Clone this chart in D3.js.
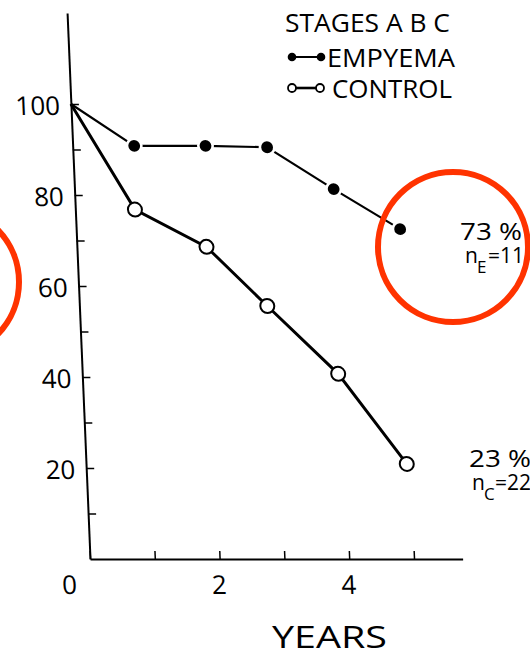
<!DOCTYPE html>
<html>
<head>
<meta charset="utf-8">
<script src="https://cdn.jsdelivr.net/npm/d3@7"></script>
<style>
  html, body { margin: 0; padding: 0; background: #fff; }
  svg { display: block; }
  text { font-family: "Open Sans", Lato, "DejaVu Sans", sans-serif; font-weight: 400; fill: #000; }
</style>
</head>
<body>
<div id="chart"></div>
<script>
// ---- data ----
const empyemaYears  = [0, 0.95, 2.05, 3.0, 4.0, 5.0];
const empyemaValues = [100, 90.8, 90.8, 90.5, 81.3, 72.5];
const controlYears  = [0, 0.92, 2.0, 2.9, 3.95, 4.95];
const controlValues = [100, 76.8, 68.6, 55.6, 40.7, 20.9];
const xTickValues = [0, 1, 2, 3, 4, 5];
const xTickLabels = ["0", "", "2", "", "4", ""];
const yTickValues = [10, 20, 30, 40, 50, 60, 70, 80, 90, 100];
const yTickLabels = ["", "20", "", "40", "", "60", "", "80", "", "100"];
const legendTitle = "STAGES A B C";
const seriesNames = ["EMPYEMA", "CONTROL"];
const endLabels = [
  { pct: "73 %", sub: "E", n: "=11" },
  { pct: "23 %", sub: "C", n: "=22" }
];
const xTitle = "YEARS";

const W = 530, H = 652;
const FONT = '"Open Sans", Lato, "DejaVu Sans", sans-serif';
const svg = d3.select("#chart").append("svg").attr("width", W).attr("height", H);

// plot group: origin at axis corner, slight skew mimics the hand-drawn slanted y axis
const ox = 90, oy = 559, skewDeg = Math.atan(0.042) * 180 / Math.PI;
const g = svg.append("g").attr("transform", `translate(${ox},${oy}) skewX(${skewDeg})`);

const x = d3.scaleLinear().domain([0, 5.75]).range([0, 5.75 * 64.8]);
const y = d3.scaleLinear().domain([0, 120]).range([0, -546]);

// axes
const yAxis = d3.axisLeft(y).tickValues(yTickValues).tickSizeInner(-8).tickSizeOuter(0)
  .tickPadding(11).tickFormat((d, i) => yTickLabels[i]);
const gy = g.append("g").call(yAxis);
gy.select(".domain").attr("stroke", "#000").attr("stroke-width", 2);
gy.selectAll(".tick line").attr("stroke", "#000").attr("stroke-width", 1.5);
gy.selectAll(".tick text").attr("font-size", 26).attr("dy", "0.42em")
  .style("font-family", FONT).style("font-weight", 400).attr("fill", "#000");

const xAxis = d3.axisBottom(x).tickValues(xTickValues).tickSizeInner(-8).tickSizeOuter(0)
  .tickPadding(17).tickFormat((d, i) => xTickLabels[i]);
const gx = g.append("g").call(xAxis);
gx.select(".domain").attr("stroke", "#000").attr("stroke-width", 2.2);
gx.selectAll(".tick line").attr("stroke", "#000").attr("stroke-width", 1.5);
gx.selectAll(".tick text").attr("font-size", 26)
  .style("font-family", FONT).style("font-weight", 400).attr("fill", "#000")
  .attr("dx", d => d === 0 ? -22 : -2);

// series
const empyema = empyemaYears.map((t, i) => ({ t, v: empyemaValues[i] }));
const control = controlYears.map((t, i) => ({ t, v: controlValues[i] }));
const line = d3.line().x(d => x(d.t)).y(d => y(d.v));

g.append("path").datum(control).attr("d", line)
  .attr("fill", "none").attr("stroke", "#000").attr("stroke-width", 3);
g.append("path").datum(empyema).attr("d", line)
  .attr("fill", "none").attr("stroke", "#000").attr("stroke-width", 2.2);

g.selectAll(".emp").data(empyema.slice(1)).join("circle").attr("class", "emp")
  .attr("cx", d => x(d.t)).attr("cy", d => y(d.v)).attr("r", 7.2)
  .attr("fill", "#000").attr("stroke", "#fff").attr("stroke-width", 2.6);
g.selectAll(".ctl").data(control.slice(1)).join("circle").attr("class", "ctl")
  .attr("cx", d => x(d.t)).attr("cy", d => y(d.v)).attr("r", 7)
  .attr("fill", "#fff").attr("stroke", "#000").attr("stroke-width", 2);

// legend
svg.append("text").attr("x", 285).attr("y", 32).attr("font-size", 25)
  .attr("textLength", 165).attr("lengthAdjust", "spacingAndGlyphs").text(legendTitle);

const lg = svg.append("g");
lg.append("line").attr("x1", 292).attr("x2", 321).attr("y1", 57).attr("y2", 57)
  .attr("stroke", "#000").attr("stroke-width", 2);
lg.selectAll(".le").data([292, 321]).join("circle").attr("class", "le")
  .attr("cx", d => d).attr("cy", 57).attr("r", 4.3).attr("fill", "#000");
lg.append("text").attr("x", 327).attr("y", 67).attr("font-size", 25)
  .attr("textLength", 128).attr("lengthAdjust", "spacingAndGlyphs").text(seriesNames[0]);

lg.append("line").attr("x1", 292).attr("x2", 320).attr("y1", 88).attr("y2", 88)
  .attr("stroke", "#000").attr("stroke-width", 2.6);
lg.selectAll(".lc").data([292, 320]).join("circle").attr("class", "lc")
  .attr("cx", d => d).attr("cy", 88).attr("r", 4).attr("fill", "#fff")
  .attr("stroke", "#000").attr("stroke-width", 1.8);
lg.append("text").attr("x", 332).attr("y", 98).attr("font-size", 25)
  .attr("textLength", 120).attr("lengthAdjust", "spacingAndGlyphs").text(seriesNames[1]);

// end annotations
function endLabel(lbl, px, py, nx, ny) {
  svg.append("text").attr("x", px).attr("y", py).attr("font-size", 24)
    .attr("textLength", 62).attr("lengthAdjust", "spacingAndGlyphs").text(lbl.pct);
  const t = svg.append("text").attr("y", ny).attr("font-size", 21);
  t.append("tspan").attr("x", nx).text("n");
  t.append("tspan").attr("x", nx + 12).attr("dy", 10).attr("font-size", 17).text(lbl.sub);
  t.append("tspan").attr("x", nx + 23).attr("dy", -10).text(lbl.n);
}
endLabel(endLabels[0], 460, 240, 465, 263);
endLabel(endLabels[1], 469, 467, 472, 490);

// x title
svg.append("text").attr("x", 272).attr("y", 648).attr("font-size", 31)
  .attr("textLength", 115).attr("lengthAdjust", "spacingAndGlyphs").text(xTitle);

// red highlight circles
const highlights = [{ cx: 453, cy: 247 }, { cx: -56, cy: 282 }];
svg.selectAll(".hl").data(highlights).join("circle").attr("class", "hl")
  .attr("cx", d => d.cx).attr("cy", d => d.cy).attr("r", 75)
  .attr("fill", "none").attr("stroke", "#ff3300").attr("stroke-width", 6);
</script>
</body>
</html>
